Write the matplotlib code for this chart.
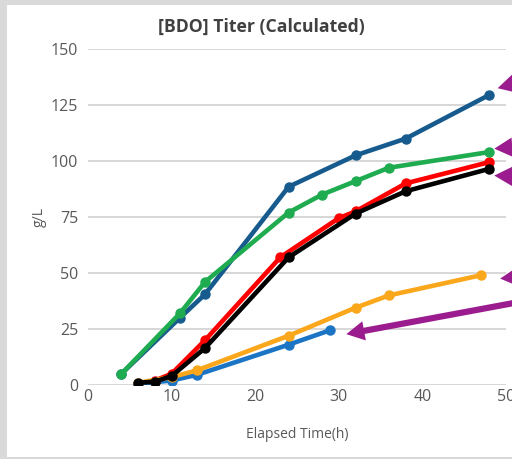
import matplotlib.pyplot as plt
from matplotlib.patches import Rectangle

plt.rcParams["font.family"] = ["Open Sans", "DejaVu Sans"]

# series: (hours, g/L)
dkblue_x = [4, 11, 14, 24, 32, 38, 48]
dkblue_y = [5, 30, 40.5, 88.5, 102.5, 110, 129.5]
green_x = [4, 11, 14, 24, 28, 32, 36, 48]
green_y = [5, 32, 46, 77, 85, 91, 97, 104]
red_x = [8, 10, 14, 23, 30, 32, 38, 48]
red_y = [2, 5, 20, 57, 74.5, 77.5, 90, 99.5]
black_x = [6, 8, 10, 14, 24, 32, 38, 48]
black_y = [1, 1.5, 4, 16.5, 57, 76.5, 86.5, 96.5]
ltblue_x = [6, 10, 13, 24, 29]
ltblue_y = [0.5, 2, 4.5, 18, 24.5]
orange_x = [6, 10, 13, 24, 32, 36, 47]
orange_y = [1, 3.5, 6.5, 22, 34.5, 40, 49]

# arrow tips / tails (data units)
arrow_tips = [(49.0, 132.5), (48.6, 105.5), (48.6, 93.5), (49.3, 47.5), (30.9, 22.7)]
arrow_tails = [(52.0, 135.5), (52.0, 106.5), (52.0, 93.0), (52.0, 48.5), (51.5, 37.0)]

fig = plt.figure(figsize=(5.12, 4.59), dpi=100, facecolor="#d9d9d9")
fig.patches.append(Rectangle((7 / 512, 2 / 459), 1, 452 / 459, transform=fig.transFigure,
                             facecolor="white", edgecolor="none", zorder=-5))
ax = fig.add_axes([88 / 512, 74 / 459, 418 / 512, 336 / 459])
ax.set_facecolor("none")

lw, ms = 3.3, 6.5
ax.plot(dkblue_x, dkblue_y, color="#175b8e", lw=lw, marker="o", ms=ms, zorder=3)
ax.plot(green_x, green_y, color="#1fab50", lw=lw, marker="o", ms=ms, zorder=4)
ax.plot(ltblue_x, ltblue_y, color="#1b75c4", lw=lw, marker="o", ms=ms, zorder=3)
ax.plot(orange_x, orange_y, color="#fba71b", lw=lw, marker="o", ms=ms, zorder=4)
ax.plot(red_x, red_y, color="#ff0000", lw=lw, marker="o", ms=ms, zorder=3)
ax.plot(black_x, black_y, color="#000000", lw=lw, marker="o", ms=ms, zorder=4)

for (tx, ty), (sx, sy) in zip(arrow_tips, arrow_tails):
    ax.annotate("", xy=(tx, ty), xytext=(sx, sy), annotation_clip=False,
                arrowprops=dict(arrowstyle="simple,head_width=1.4,head_length=1.3,tail_width=0.45",
                                color="#9a1c8e", lw=0, shrinkA=0, shrinkB=0))

ax.set_xlim(0, 50)
ax.set_ylim(0, 150)
ax.set_xticks(range(0, 51, 10))
ax.set_yticks(range(0, 151, 25))
ax.grid(axis="y", color="#d4d4d4", lw=1.3)
ax.set_axisbelow(True)
for s in ax.spines.values():
    s.set_visible(False)
ax.tick_params(length=0, labelsize=11.5, labelcolor="#595959")
ax.tick_params(axis="y", pad=7)
ax.tick_params(axis="x", pad=3)
ax.set_xlabel("Elapsed Time(h)", fontsize=10, color="#595959", labelpad=16)
ax.set_ylabel("g/L", fontsize=10, color="#595959", labelpad=3)
fig.text(261 / 512, 1 - 27 / 459, "[BDO] Titer (Calculated)", fontsize=12.7, fontweight="bold",
         color="#404040", ha="center", va="center")

fig.savefig("out.png", dpi=100, facecolor=fig.get_facecolor())
